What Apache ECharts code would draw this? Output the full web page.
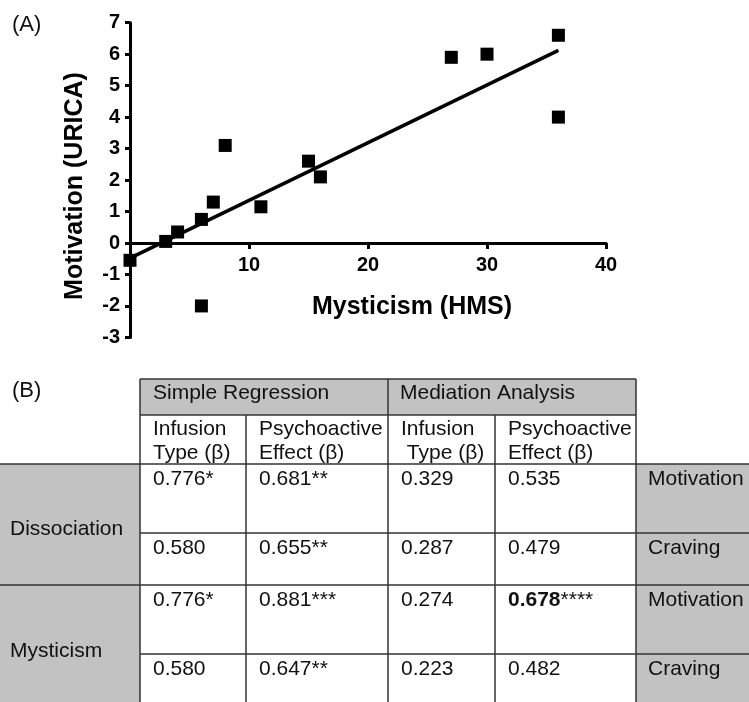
<!DOCTYPE html>
<html>
<head>
<meta charset="utf-8">
<script src="https://cdn.jsdelivr.net/npm/echarts@6/dist/echarts.min.js"></script>
<style>
html,body{margin:0;padding:0;background:#fff;}
#chart{width:749px;height:702px;}
</style>
</head>
<body>
<div id="chart"></div>
<script>
// ---- Panel A data ----
const mysticism  = [0, 3, 4, 6, 6, 7, 8, 11, 15, 16, 27, 30, 36, 36];
const motivation = [-0.55, 0.05, 0.35, 0.75, -2.0, 1.3, 3.1, 1.15, 2.6, 2.1, 5.9, 6.0, 6.6, 4.0];
const fitX = [0, 36];
const fitY = [-0.48, 6.12];
const xTitle = 'Mysticism (HMS)';
const yTitle = 'Motivation (URICA)';

// ---- Panel B data ----
const groupHeaders = ['Simple Regression', 'Mediation Analysis'];
const subHeaders = ['Infusion\nType (β)', 'Psychoactive\nEffect (β)', 'Infusion\n Type (β)', 'Psychoactive\nEffect (β)'];
const predictors = ['Dissociation', 'Mysticism'];
const outcomes = ['Motivation', 'Craving', 'Motivation', 'Craving'];
const rowValues = [
  ['0.776*', '0.681**', '0.329', '0.535'],
  ['0.580', '0.655**', '0.287', '0.479'],
  ['0.776*', '0.881***', '0.274', '0.678****'],
  ['0.580', '0.647**', '0.223', '0.482']
];
const boldCell = [2, 3, '0.678', '****'];

// ---- layout (positions only) ----
const colX = [0, 140, 246, 388, 495, 636, 749];
const rowY = [379, 415, 464, 533, 585, 654, 710];
const FONT = 'Liberation Sans, Arial, Helvetica, sans-serif';
const GRAY = '#c2c2c2';
const LINE = '#333';
const TFS = 21;
const GRID_TOP = 22.7, GRID_BOTTOM_PX = 337.4, ZERO_PX = 243;

const g = [];
// fills
g.push({type:'rect', shape:{x:colX[1], y:rowY[0], width:colX[5]-colX[1], height:rowY[1]-rowY[0]}, style:{fill:GRAY}, z:1});
g.push({type:'rect', shape:{x:colX[0], y:rowY[2], width:colX[1]-colX[0], height:rowY[6]-rowY[2]}, style:{fill:GRAY}, z:1});
g.push({type:'rect', shape:{x:colX[5], y:rowY[2], width:colX[6]-colX[5], height:rowY[6]-rowY[2]}, style:{fill:GRAY}, z:1});
// lines
function hl(y, x1, x2){ g.push({type:'line', shape:{x1:x1, y1:y, x2:x2, y2:y}, style:{stroke:LINE, lineWidth:1.5}, z:2}); }
function vl(x, y1, y2){ g.push({type:'line', shape:{x1:x, y1:y1, x2:x, y2:y2}, style:{stroke:LINE, lineWidth:1.5}, z:2}); }
hl(rowY[0], colX[1], colX[5]);
hl(rowY[1], colX[1], colX[5]);
hl(rowY[2], colX[0], colX[6]);
hl(rowY[3], colX[1], colX[6]);
hl(rowY[4], colX[0], colX[6]);
hl(rowY[5], colX[1], colX[6]);
vl(colX[1], rowY[0], rowY[6]);
vl(colX[2], rowY[1], rowY[6]);
vl(colX[3], rowY[0], rowY[6]);
vl(colX[4], rowY[1], rowY[6]);
vl(colX[5], rowY[0], rowY[6]);

function txt(s, x, y, opts){
  const st = Object.assign({text:s, x:x, y:y, fill:'#111', font: 'normal ' + TFS + 'px ' + FONT, textAlign:'left', textVerticalAlign:'top'}, opts||{});
  g.push({type:'text', style:st, z:5});
}
// group headers
txt(groupHeaders[0], colX[1]+13, rowY[0]+3.3);
txt(groupHeaders[1], colX[3]+12, rowY[0]+3.3);
// sub headers
for (let i=0;i<4;i++){
  txt(subHeaders[i], colX[i+1]+13, rowY[1]+2.7, {lineHeight:23.5});
}
// body
for (let r=0;r<4;r++){
  for (let c=0;c<4;c++){
    const x = colX[c+1] + 13, y = rowY[r+2] + 5;
    if (r===boldCell[0] && c===boldCell[1]) {
      g.push({type:'text', z:5, style:{x:x, y:y, textAlign:'left', textVerticalAlign:'top',
        text:'{b|' + boldCell[2] + '}{n|' + boldCell[3] + '}',
        rich:{b:{fontWeight:'bold', fontSize:TFS, fontFamily:FONT, fill:'#111', lineHeight:TFS},
              n:{fontWeight:'normal', fontSize:TFS, fontFamily:FONT, fill:'#111', lineHeight:TFS}}}});
    } else {
      txt(rowValues[r][c], x, y);
    }
  }
  txt(outcomes[r], colX[5]+12, rowY[r+2]+4.5);
}
txt(predictors[0], 10, 519);
txt(predictors[1], 10, 640.3);
// panel labels
txt('(A)', 12, 25, {font:'normal 22px ' + FONT, textVerticalAlign:'middle'});
txt('(B)', 12, 391, {font:'normal 22px ' + FONT, textVerticalAlign:'middle'});

const chart = echarts.init(document.getElementById('chart'), null, {renderer:'canvas'});
const axisFont = {fontFamily: FONT, fontWeight:'bold', fontSize:20, color:'#000'};
chart.setOption({
  animation:false,
  backgroundColor:'#fff',
  grid:{left:130, right:143, top:GRID_TOP, bottom:702-GRID_BOTTOM_PX, containLabel:false},
  xAxis:{
    type:'value', min:0, max:40, interval:10,
    position:'bottom', offset: ZERO_PX - GRID_BOTTOM_PX,
    axisLine:{show:true, onZero:false, lineStyle:{color:'#000', width:3}},
    axisTick:{show:true, length:6, lineStyle:{color:'#000', width:3}},
    axisLabel:Object.assign({margin:12, formatter:function(v){return v===0?'':String(v);}}, axisFont),
    splitLine:{show:false},
    name:xTitle, nameLocation:'middle', nameGap:52,
    nameTextStyle:{fontFamily:FONT, fontWeight:'bold', fontSize:25, color:'#000', padding:[0,0,0,88]}
  },
  yAxis:{
    type:'value', min:-3, max:7, interval:1,
    axisLine:{show:true, onZero:false, lineStyle:{color:'#000', width:3}},
    axisTick:{show:true, length:5, lineStyle:{color:'#000', width:3}},
    axisLabel:Object.assign({margin:10}, axisFont),
    splitLine:{show:false},
    name:yTitle, nameLocation:'middle', nameGap:42, nameRotate:90,
    nameTextStyle:{fontFamily:FONT, fontWeight:'bold', fontSize:25, color:'#000', padding:[0,12,0,0]}
  },
  series:[
    {type:'line', data:fitX.map((x,i)=>[x, fitY[i]]), symbol:'none', lineStyle:{color:'#000', width:3.5}, z:2},
    {type:'scatter', data:mysticism.map((x,i)=>[x, motivation[i]]), symbol:'rect', symbolSize:13, itemStyle:{color:'#000', opacity:1}, z:3}
  ],
  graphic:g
});
</script>
</body>
</html>
